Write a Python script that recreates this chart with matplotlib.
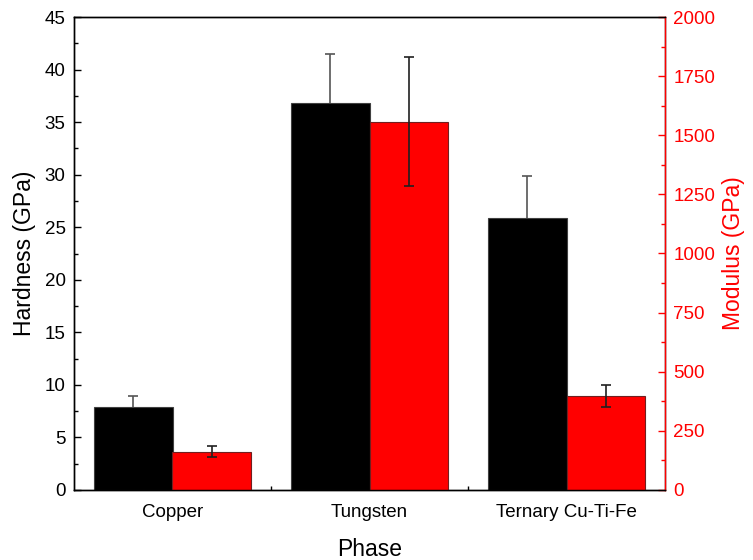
import numpy as np
import matplotlib
matplotlib.use("Agg")
import matplotlib.pyplot as plt
from matplotlib.ticker import MultipleLocator, FixedLocator

plt.rcParams['font.family'] = ['Liberation Sans', 'DejaVu Sans']

# data
phases = ['Copper', 'Tungsten', 'Ternary Cu-Ti-Fe']
hardness = [7.9, 36.8, 25.9]
hardness_err = [1.0, 4.7, 4.0]
modulus = [162, 1557, 396]
modulus_err = [23, 272, 46]

x = np.arange(1, len(phases) + 1)
w = 0.4

fig = plt.figure(figsize=(7.53, 5.6), dpi=100)
ax = fig.add_axes([74 / 753, 70 / 560, 591 / 753, 473 / 560])
ax2 = ax.twinx()

# hardness error bars sit behind the bars, so only the upper half shows
ax.bar(x - w / 2, hardness, w, color='black', edgecolor='#404040', linewidth=0.8, zorder=2,
       yerr=hardness_err, error_kw=dict(ecolor='#555555', elinewidth=1.2, capsize=3.5,
                                         capthick=1.2, zorder=1))
ax2.bar(x + w / 2, modulus, w, color='red', edgecolor='#702020', linewidth=0.8,
        yerr=modulus_err, error_kw=dict(ecolor='#202020', elinewidth=1.2, capsize=3.5, capthick=1.2))

ax.set_xlim(0.5, 3.5)
ax.set_ylim(0, 45)
ax2.set_ylim(0, 2000)

ax.set_xticks(x)
ax.set_xticklabels(phases)
ax.xaxis.set_minor_locator(FixedLocator([1.5, 2.5]))
ax.yaxis.set_major_locator(MultipleLocator(5))
ax.yaxis.set_minor_locator(MultipleLocator(2.5))
ax2.yaxis.set_major_locator(MultipleLocator(250))
ax2.yaxis.set_minor_locator(MultipleLocator(125))

ax.tick_params(axis='both', which='both', direction='in', labelsize=13.5, top=False)
ax.tick_params(which='major', length=5, width=1)
ax.tick_params(which='minor', length=3, width=1)
ax.tick_params(axis='x', pad=10)
ax.tick_params(axis='y', pad=6)
ax2.tick_params(axis='y', which='both', direction='in', colors='red', labelsize=13.5, pad=6)
ax2.tick_params(which='major', length=5, width=1)
ax2.tick_params(which='minor', length=3, width=1)

ax2.spines['right'].set_color('red')
for s in ax.spines.values():
    s.set_linewidth(1)
for s in ax2.spines.values():
    s.set_linewidth(1)

ax.set_ylabel('Hardness (GPa)', fontsize=16.5, labelpad=6)
ax2.set_ylabel('Modulus (GPa)', fontsize=16.5, color='red', labelpad=5)
ax.set_xlabel('Phase', fontsize=16.5, labelpad=12)

fig.savefig('out.png', dpi=100)
